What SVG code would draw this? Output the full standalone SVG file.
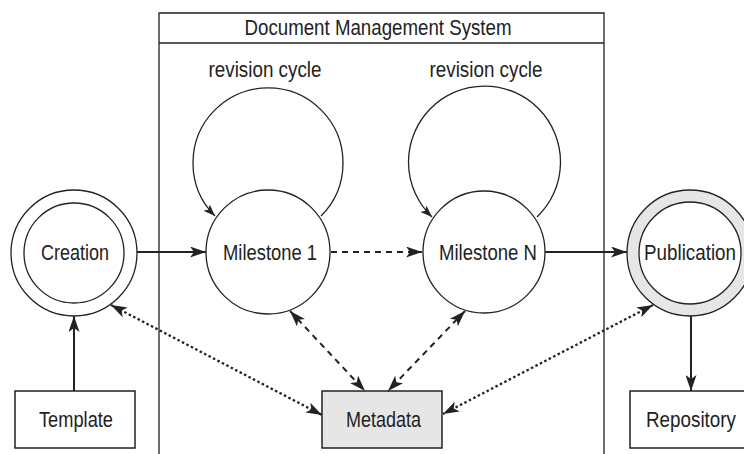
<svg xmlns="http://www.w3.org/2000/svg" width="744" height="454" viewBox="0 0 744 454">
<style>
text{font-family:"Liberation Sans",Arial,sans-serif;font-size:22px;fill:#222;text-anchor:middle}
.node{fill:#fff;stroke:#222;stroke-width:1.3}
.gray{fill:#e6e6e6;stroke:#222;stroke-width:1.3}
.box{fill:#fff;stroke:#222;stroke-width:1.5}
.c{fill:none;stroke:#222;stroke-width:2}
.dash{stroke-dasharray:6,5}
.dot{stroke-dasharray:2.5,2.5;stroke-width:2.3}
.loop{fill:none;stroke:#222;stroke-width:1.3}
</style>
<defs>
<marker id="ah" viewBox="0 0 16 11" markerWidth="16" markerHeight="11" refX="16" refY="5.5" orient="auto-start-reverse" markerUnits="userSpaceOnUse">
<path d="M0,0 L16,5.5 L0,11 L4,5.5 Z" fill="#222"/>
</marker>
<marker id="ahs" viewBox="0 0 12 9" markerWidth="12" markerHeight="9" refX="12" refY="4.5" orient="auto" markerUnits="userSpaceOnUse">
<path d="M0,0 L12,4.5 L0,9 L3,4.5 Z" fill="#222"/>
</marker>
</defs>
<g id="dms">
<path d="M159,454 V13 H604 V454" fill="none" stroke="#222" stroke-width="1.3"/>
<line x1="159" y1="43" x2="604" y2="43" stroke="#222" stroke-width="1.3"/>
<text x="378" y="35" textLength="267" lengthAdjust="spacingAndGlyphs">Document Management System</text>
</g>
<g id="creation">
<circle class="node" cx="74" cy="253" r="63"/>
<circle class="node" cx="74" cy="253" r="50"/>
<text x="75" y="260" textLength="68" lengthAdjust="spacingAndGlyphs">Creation</text>
</g>
<g id="milestone1">
<circle class="node" cx="268" cy="252" r="62"/>
<text x="270" y="260" textLength="94" lengthAdjust="spacingAndGlyphs">Milestone 1</text>
</g>
<g id="milestoneN">
<circle class="node" cx="484" cy="252" r="61"/>
<text x="488" y="260" textLength="98" lengthAdjust="spacingAndGlyphs">Milestone N</text>
</g>
<g id="publication">
<circle class="gray" cx="690" cy="253" r="63"/>
<circle class="node" cx="690" cy="253" r="51"/>
<text x="690" y="260" textLength="92" lengthAdjust="spacingAndGlyphs">Publication</text>
</g>
<g id="template">
<rect class="box" x="15" y="391" width="120" height="57"/>
<text x="76" y="427" textLength="74" lengthAdjust="spacingAndGlyphs">Template</text>
</g>
<g id="repository">
<rect class="box" x="630" y="391" width="116" height="57"/>
<text x="691" y="427" textLength="90" lengthAdjust="spacingAndGlyphs">Repository</text>
</g>
<g id="metadata">
<rect class="gray" x="322" y="391" width="120" height="57" style="stroke-width:1.5"/>
<text x="383.5" y="427" textLength="75" lengthAdjust="spacingAndGlyphs">Metadata</text>
</g>
<g id="connectors">
<path class="loop" d="M321,216 A75,75 0 1 0 215,216" marker-end="url(#ahs)"/>
<text x="265" y="77" textLength="113" lengthAdjust="spacingAndGlyphs">revision cycle</text>
<path class="loop" d="M537,217 A76,76 0 1 0 432,217" marker-end="url(#ahs)"/>
<text x="486" y="77" textLength="113" lengthAdjust="spacingAndGlyphs">revision cycle</text>
<line class="c" x1="137" y1="252" x2="206" y2="252" marker-end="url(#ah)"/>
<line class="c dash" x1="331" y1="252" x2="422" y2="252" marker-end="url(#ah)"/>
<line class="c" x1="545" y1="252" x2="627" y2="252" marker-end="url(#ah)"/>
<line class="c" x1="74" y1="391" x2="74" y2="316" marker-end="url(#ah)"/>
<line class="c" x1="691" y1="316" x2="691" y2="391" marker-end="url(#ah)"/>
<line class="c dash" x1="290" y1="311" x2="365" y2="391" marker-start="url(#ah)" marker-end="url(#ah)"/>
<line class="c dash" x1="465" y1="311" x2="388" y2="391" marker-start="url(#ah)" marker-end="url(#ah)"/>
<line class="c dot" x1="111" y1="305" x2="322" y2="415" marker-start="url(#ah)" marker-end="url(#ah)"/>
<line class="c dot" x1="653" y1="305" x2="443" y2="414" marker-start="url(#ah)" marker-end="url(#ah)"/>
</g>
</svg>
